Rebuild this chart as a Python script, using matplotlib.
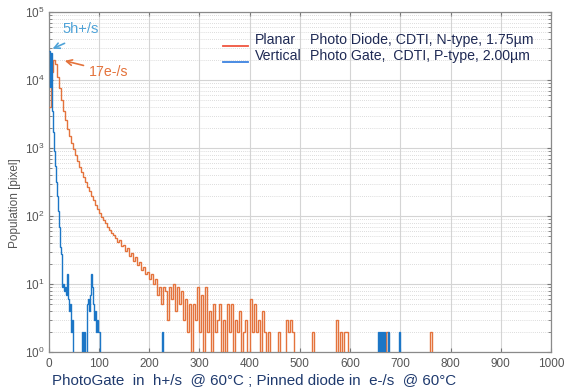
import numpy as np
import matplotlib
matplotlib.use("Agg")
import matplotlib.pyplot as plt
from matplotlib.ticker import LogLocator, NullFormatter

plt.rcParams['font.family'] = ['Liberation Sans', 'DejaVu Sans']

# ---------------- data ----------------
# Planar photodiode (e-/s), histogram bins of width 4 starting at 0
planar_bin_width = 4
planar_counts = [
    4000, 13000, 20000, 17000, 11000, 7500, 5000, 3500, 2600, 1900,
    1500, 1200, 960, 780, 640, 530, 450, 380, 320, 270,
    230, 200, 170, 145, 125, 110, 96, 86, 78, 70,
    62, 56, 52, 47, 42, 44, 36, 38, 31, 34,
    26, 29, 22, 25, 19, 21, 16, 18, 14, 15,
    12, 14, 10, 12, 7, 9, 5, 9, 8, 3,
    9, 6, 10, 4, 9, 5, 8, 3, 6, 2,
    5, 1, 5, 3, 9, 2, 7, 1, 9, 2,
    4, 1, 5, 2, 3, 5, 1, 3, 1, 5,
    2, 5, 1, 3, 2, 4, 1, 2, 3, 1,
    6, 2, 5, 2, 3, 1, 4, 2, 0, 2,
    0, 0, 0, 0, 2, 0, 0, 0, 3, 2,
    3, 2, 0, 0, 0, 0, 0, 0, 0, 0,
    0, 2, 0, 0, 0, 0, 0, 0, 0, 0,
    0, 0, 0, 3, 0, 2, 0, 2, 2, 0,
]
planar_sparse_x = [672, 760]
planar_sparse_counts = [2, 2]

# Vertical photogate (h+/s), histogram bins of width 2 starting at 0
gate_bin_width = 2
gate_counts = [
    27000, 8000, 25000, 3500, 1700, 900, 550, 320, 200, 120,
    70, 35, 28, 9, 10, 8, 9, 7, 14, 6,
    4, 5, 2, 3, 0, 0, 0, 0, 0, 0,
    0, 0, 0, 2, 0, 2, 0, 0, 5, 6,
    4, 7, 14, 9, 5, 3, 4, 2, 3, 2,
    2, 0,
]
gate_sparse_x = [226, 656, 660, 664, 668, 676, 698]
gate_sparse_counts = [2, 2, 2, 2, 2, 2, 2]

xticks = list(range(0, 1001, 100))

planar_label = ("Planar", "Photo Diode, CDTI, N-type, 1.75\u00b5m")
gate_label = ("Vertical", "Photo Gate,  CDTI, P-type, 2.00\u00b5m")
xlabel_text = "PhotoGate  in  h+/s  @ 60\u00b0C ; Pinned diode in  e-/s  @ 60\u00b0C"

# ---------------- helpers ----------------
def build_hist(counts, width, sparse_x, sparse_c, xmax=1000):
    n = int(xmax / width)
    vals = np.zeros(n)
    vals[:len(counts)] = counts
    for x, c in zip(sparse_x, sparse_c):
        vals[int(x // width)] = c
    edges = np.arange(n + 1) * width
    vals = np.where(vals > 0, vals, 1e-3)
    return edges, vals

W, H = 565, 392
fig = plt.figure(figsize=(W / 100, H / 100), dpi=100)
ax = fig.add_axes([48.5 / W, 1 - 352 / H, (551 - 48.5) / W, (352 - 12) / H])

orange = '#E4733C'
blue = '#1C76C6'

e1, v1 = build_hist(planar_counts, planar_bin_width, planar_sparse_x, planar_sparse_counts)
e2, v2 = build_hist(gate_counts, gate_bin_width, gate_sparse_x, gate_sparse_counts)

ax.stairs(v1, e1, color=orange, lw=1.0, baseline=None, zorder=3)
ax.stairs(v2, e2, color=blue, lw=1.0, baseline=None, zorder=4)

ax.set_yscale('log')
ax.set_xlim(0, 1000)
ax.set_ylim(1, 1e5)
ax.set_xticks(xticks)
ax.set_xticklabels([str(t) for t in xticks])
ax.yaxis.set_major_locator(LogLocator(base=10, numticks=10))
ax.yaxis.set_minor_locator(LogLocator(base=10, subs=np.arange(2, 10), numticks=20))
ax.yaxis.set_minor_formatter(NullFormatter())

ax.grid(True, which='major', color='#d4d4d4', lw=0.8, ls='-', zorder=0)
ax.grid(True, which='minor', axis='y', color='#d0d0d0', lw=0.6, ls=(0, (1, 1.5)), zorder=0)
ax.set_axisbelow(True)

for s in ax.spines.values():
    s.set_color('#8a8a8a')
    s.set_linewidth(0.9)
ax.tick_params(axis='both', which='both', direction='in', top=True, right=True,
               colors='#777777', labelcolor='#555555', labelsize=8.5)
ax.tick_params(which='major', length=3)
ax.tick_params(which='minor', length=2)
ax.tick_params(axis='x', pad=4)
ax.tick_params(axis='y', pad=3)

# annotations
ax.annotate('', xy=(3, 27700), xytext=(37, 36000),
            arrowprops=dict(arrowstyle='->', color='#4FA3D8', lw=1.2), zorder=6)
ax.text(27, 56000, '5h+/s', color='#4FA3D8', fontsize=10.5, va='center', ha='left')
ax.annotate('', xy=(27, 19600), xytext=(75, 16000),
            arrowprops=dict(arrowstyle='->', color='#E4733C', lw=1.2), zorder=6)
ax.text(81, 13000, '17e-/s', color='#E4733C', fontsize=10.2, va='center', ha='left')

# legend (manual)
navy = '#1F2A55'
for (word, rest), ty, ly, col in [(planar_label, 40, 45.5, '#F0553F'),
                                  (gate_label, 56, 62, '#3C82E0')]:
    fig.text(255 / W, 1 - ty / H, word, color=navy, fontsize=10.2, va='center', ha='left')
    fig.text(310 / W, 1 - ty / H, rest, color=navy, fontsize=10.2, va='center', ha='left')
    fig.add_artist(plt.Line2D([223 / W, 248 / W], [1 - ly / H, 1 - ly / H],
                              color=col, lw=1.3, transform=fig.transFigure))

fig.text(15 / W, 1 - 203 / H, 'Population [pixel]', rotation=90, color='#555555',
         fontsize=8.5, va='center', ha='center')
fig.text(254 / W, 1 - 381 / H, xlabel_text, color='#1F3A6E', fontsize=10.9,
         va='center', ha='center')

fig.savefig('out.png', dpi=100, facecolor='white')
